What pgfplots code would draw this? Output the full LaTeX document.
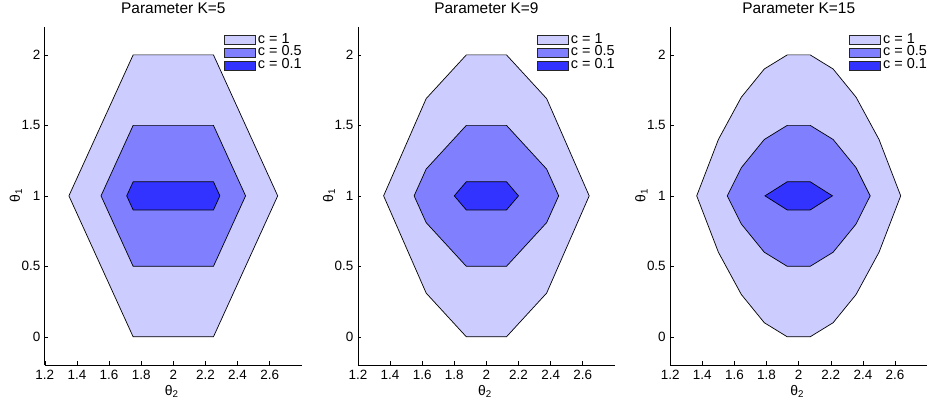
\documentclass[border=0pt]{standalone}
\usepackage{pgfplots}
\pgfplotsset{compat=1.18}
\usepackage{fontspec}
\setmainfont{Liberation Sans}
\definecolor{cA}{rgb}{0.8,0.8,1}
\definecolor{cB}{rgb}{0.5,0.5,1}
\definecolor{cC}{rgb}{0.2,0.2,1}
\pgfplotsset{
  panel/.style={
    scale only axis, width=257bp, height=338.3bp,
    anchor=south west,
    xmin=1.2, xmax=2.8, ymin=-0.2, ymax=2.2,
    xtick={1.2,1.4,1.6,1.8,2,2.2,2.4,2.6},
    ytick={0,0.5,1,1.5,2},
    axis x line*=bottom, axis y line*=left,
    axis line style={black, line width=0.8bp, -},
    tick align=inside, major tick length=3.5bp,
    tick style={black, line width=0.6bp},
    /pgf/number format/assume math mode=true,
    tick label style={font=\fontsize{13.5}{15}\selectfont},
    xticklabel style={inner sep=0pt, yshift=-5bp},
    yticklabel style={inner sep=0pt, xshift=-4.3bp},
    title style={font=\fontsize{15.5}{17}\selectfont, at={(0.5,1)}, anchor=base, yshift=7.4bp, inner sep=0pt},
    xlabel={θ\textsubscript{2}},
    ylabel={θ\textsubscript{1}},
    label style={font=\fontsize{14}{16}\selectfont},
    xlabel style={at={(axis description cs:0.5,0)}, anchor=north, yshift=-20bp, xshift=-1.5bp, inner sep=0pt},
    ylabel style={at={(axis description cs:0,0.5)}, rotate=0, anchor=south, yshift=22.5bp, inner sep=0pt},
    legend style={at={(1,1)}, anchor=north east, yshift=-7bp, draw=none, fill=none,
      inner sep=0pt, row sep=0pt, /tikz/column sep=2bp,
      font=\fontsize{14.5}{14.5}\selectfont,
      nodes={inner sep=0pt, text height=9.2bp, text depth=3.5bp, anchor=west}},
    legend cell align=left,
    legend image code/.code={\draw[##1, draw=black!85, line width=0.8bp] (0bp,-4.5bp) rectangle (31bp,4.5bp);},
  },
  pA/.style={fill=cA, draw=black, line width=0.7bp},
  pB/.style={fill=cB, draw=black, line width=0.7bp},
  pC/.style={fill=cC, draw=black, line width=0.7bp},
}
\begin{document}
\begin{tikzpicture}
\useasboundingbox (0,0) rectangle (929bp,403bp);
% K=5
\begin{axis}[panel, at={(44.8bp,38bp)}, title={Parameter K=5}]
\addplot[pA] coordinates {(1.75,2) (2.25,2) (2.65,1) (2.25,0) (1.75,0) (1.35,1)} -- cycle;
\addplot[pB] coordinates {(1.75,1.5) (2.25,1.5) (2.45,1) (2.25,0.5) (1.75,0.5) (1.55,1)} -- cycle;
\addplot[pC] coordinates {(1.75,1.1) (2.25,1.1) (2.29,1) (2.25,0.9) (1.75,0.9) (1.71,1)} -- cycle;
\legend{c = 1, c = 0.5, c = 0.1}
\end{axis}
% K=9
\begin{axis}[panel, at={(357.9bp,38bp)}, title={Parameter K=9}]
\addplot[pA] coordinates {(1.875,2) (2.125,2) (2.375,1.69) (2.64,1) (2.375,0.31) (2.125,0) (1.875,0) (1.625,0.31) (1.36,1) (1.625,1.69)} -- cycle;
\addplot[pB] coordinates {(1.875,1.5) (2.125,1.5) (2.375,1.19) (2.45,1) (2.375,0.81) (2.125,0.5) (1.875,0.5) (1.625,0.81) (1.55,1) (1.625,1.19)} -- cycle;
\addplot[pC] coordinates {(1.875,1.1) (2.125,1.1) (2.2,1) (2.125,0.9) (1.875,0.9) (1.8,1)} -- cycle;
\legend{c = 1, c = 0.5, c = 0.1}
\end{axis}
% K=15
\begin{axis}[panel, at={(670.2bp,38bp)}, title={Parameter K=15}]
\addplot[pA] coordinates {(1.9286,2) (2.0714,2) (2.2143,1.9) (2.3571,1.7) (2.5,1.4) (2.635,1) (2.5,0.6) (2.3571,0.3) (2.2143,0.1) (2.0714,0) (1.9286,0) (1.7857,0.1) (1.6429,0.3) (1.5,0.6) (1.365,1) (1.5,1.4) (1.6429,1.7) (1.7857,1.9)} -- cycle;
\addplot[pB] coordinates {(1.9286,1.5) (2.0714,1.5) (2.2143,1.4) (2.3571,1.2) (2.445,1) (2.3571,0.8) (2.2143,0.6) (2.0714,0.5) (1.9286,0.5) (1.7857,0.6) (1.6429,0.8) (1.555,1) (1.6429,1.2) (1.7857,1.4)} -- cycle;
\addplot[pC] coordinates {(1.9286,1.1) (2.0714,1.1) (2.21,1) (2.0714,0.9) (1.9286,0.9) (1.79,1)} -- cycle;
\legend{c = 1, c = 0.5, c = 0.1}
\end{axis}
\end{tikzpicture}
\end{document}
